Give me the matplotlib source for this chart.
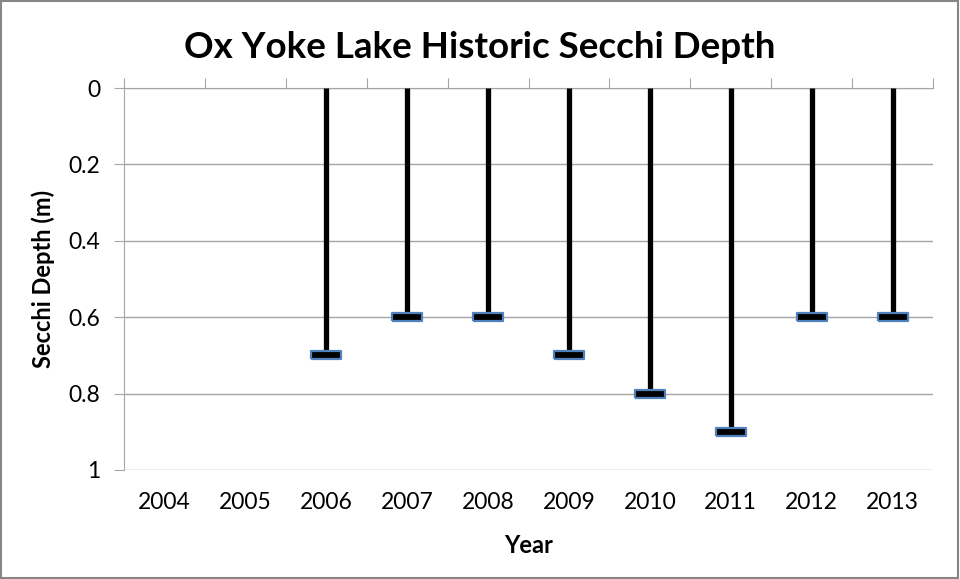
import matplotlib
matplotlib.use("Agg")
import matplotlib.pyplot as plt
import numpy as np
from matplotlib.patches import Rectangle

years = ["2004", "2005", "2006", "2007", "2008", "2009", "2010", "2011", "2012", "2013"]
depth = [np.nan, np.nan, 0.7, 0.6, 0.6, 0.7, 0.8, 0.9, 0.6, 0.6]

plt.rcParams['font.family'] = ['Lato', 'DejaVu Sans']

fig = plt.figure(figsize=(9.6, 5.79), dpi=100)
ax = fig.add_axes([124/960, 1-470/579, (933-124)/960, (470-88)/579])

x = np.arange(len(years))
d = np.array(depth, dtype=float)
mask = ~np.isnan(d)
ax.vlines(x[mask], 0, d[mask], color='black', lw=3.8, zorder=3)
cap = [(-1, -0.26), (1, -0.26), (1, 0.26), (-1, 0.26), (-1, -0.26)]
ax.plot(x[mask], d[mask], ls='none', marker=cap, markersize=21,
        markerfacecolor='black', markeredgecolor='#4F81BD', markeredgewidth=1.6, zorder=4)

ax.set_xlim(-0.5, len(years) - 0.5)
ax.set_ylim(1, 0)
ax.set_yticks([0, 0.2, 0.4, 0.6, 0.8, 1.0])
ax.set_yticklabels(["0", "0.2", "0.4", "0.6", "0.8", "1"], fontsize=16.5)
ax.grid(axis='y', color='#A6A6A6', lw=1)
ax.set_axisbelow(True)

ax.set_xticks(np.arange(len(years) + 1) - 0.5)
ax.set_xticklabels([])
ax.set_xticks(x, minor=True)
ax.set_xticklabels(years, minor=True, fontsize=16.5)
ax.tick_params(axis='x', which='major', top=True, bottom=False, direction='out', length=7, color='#A6A6A6')
ax.tick_params(axis='x', which='minor', bottom=False, length=0, pad=16)
ax.tick_params(axis='y', direction='out', length=7, color='#A6A6A6', pad=10)

for s in ['right', 'bottom']:
    ax.spines[s].set_visible(False)
ax.spines['top'].set_color('#A6A6A6')
ax.spines['left'].set_color('#A6A6A6')

ax.set_xlabel("Year", fontsize=17, fontweight='bold', labelpad=15)
ax.set_ylabel("Secchi Depth (m)", fontsize=17, fontweight='bold', labelpad=10)
fig.text(0.5, 1 - 48/579, "Ox Yoke Lake Historic Secchi Depth", ha='center', va='center',
         fontsize=26.5, fontweight='bold')

fig.patches.append(Rectangle((0.001, 0.002), 0.997, 0.996, transform=fig.transFigure,
                             fill=False, edgecolor='#868686', lw=1.5))

fig.savefig("out.png", dpi=100)
